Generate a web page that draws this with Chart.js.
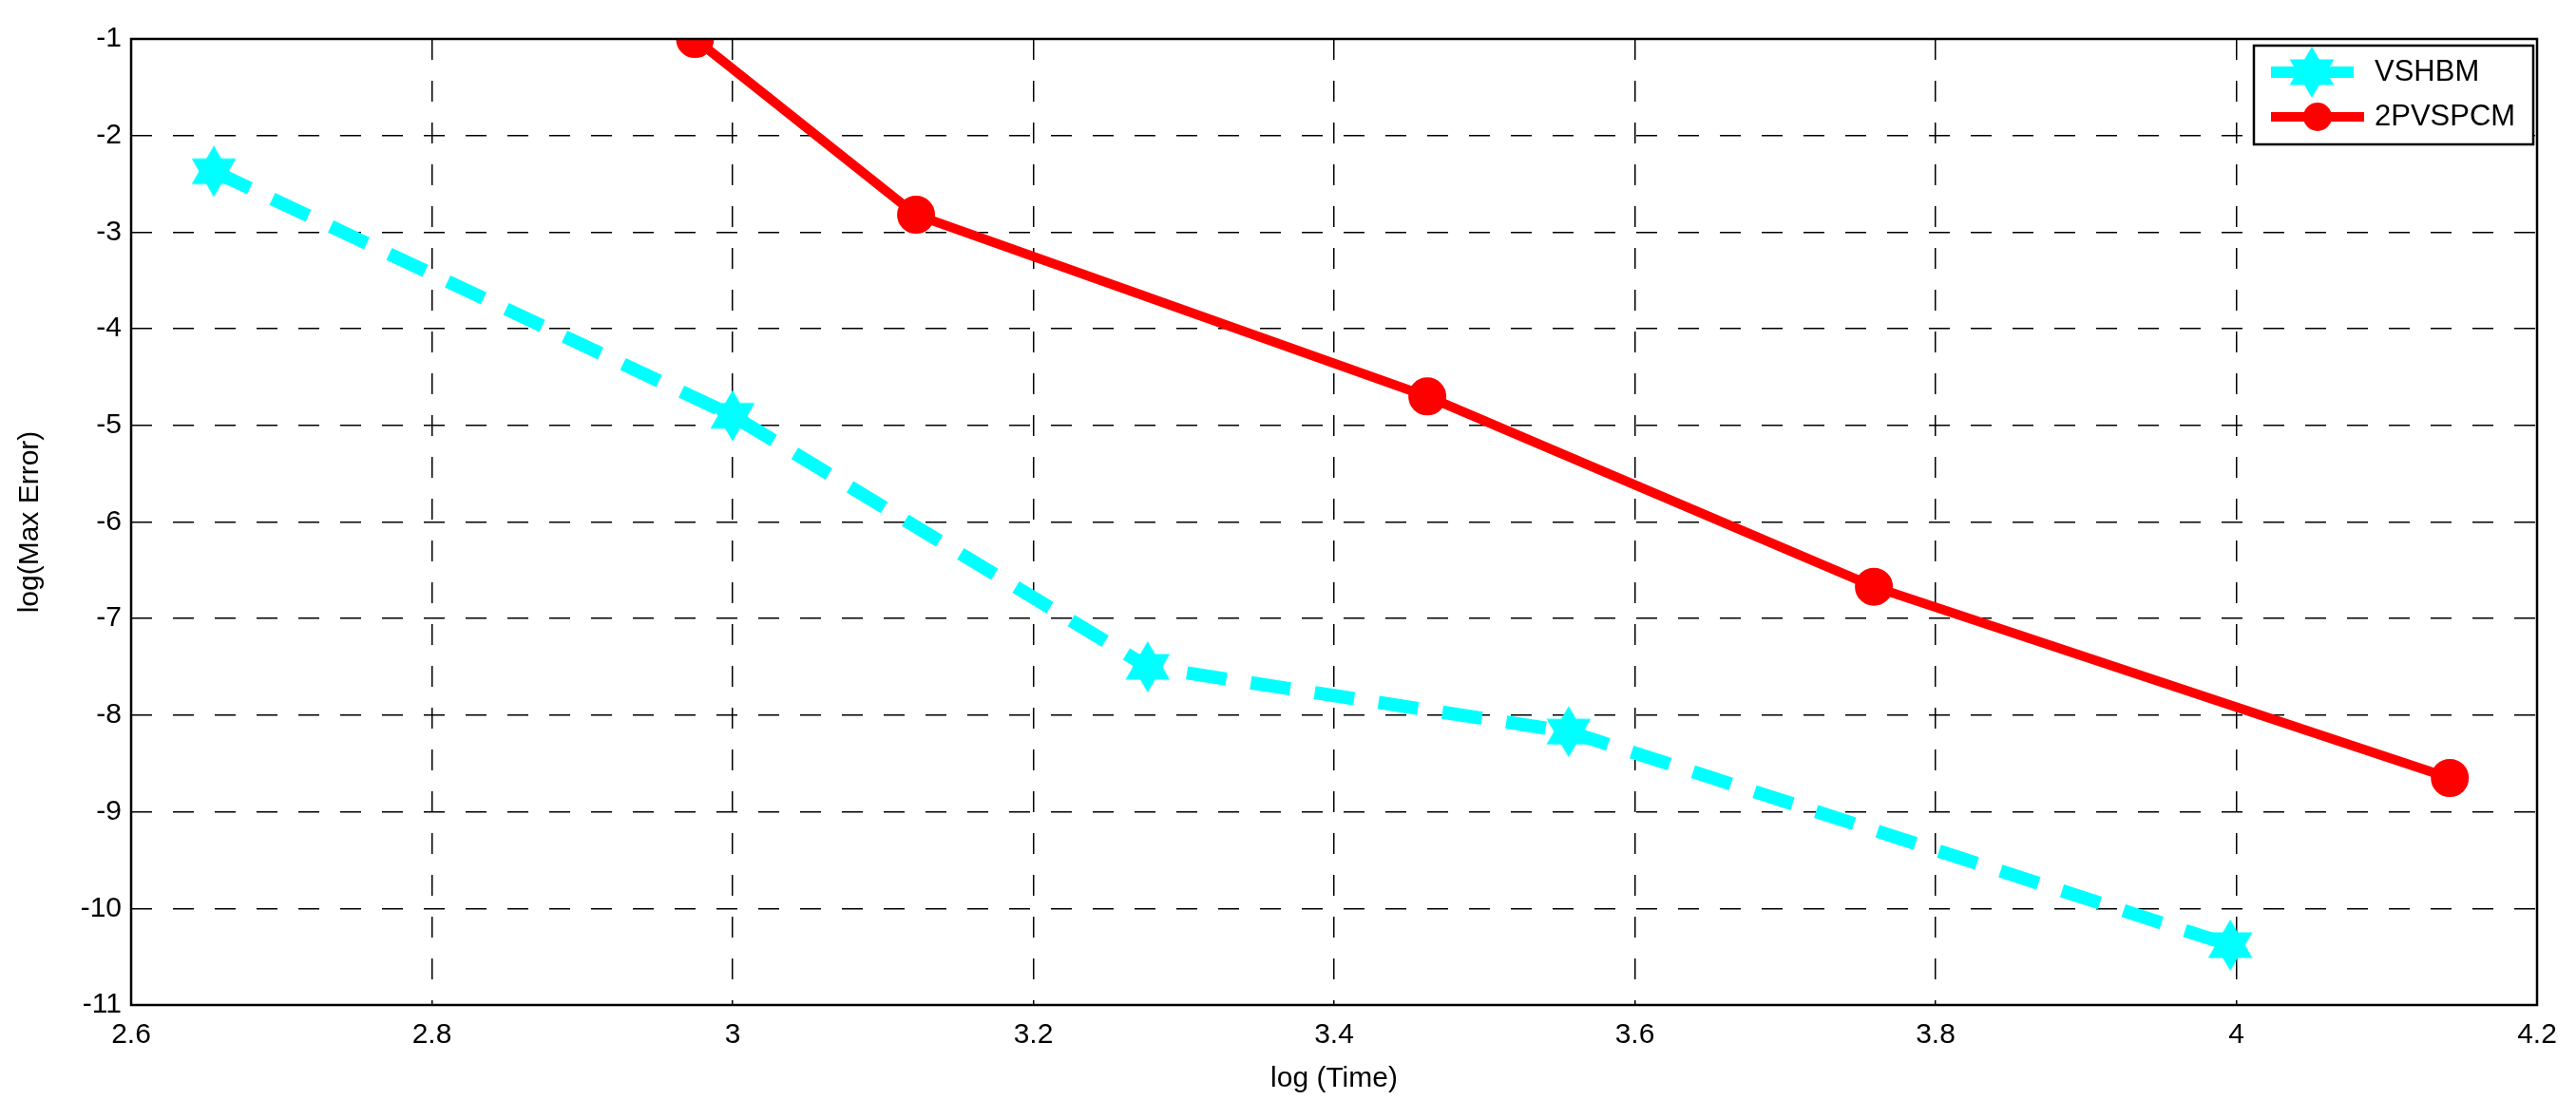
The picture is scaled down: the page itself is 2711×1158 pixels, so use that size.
<!DOCTYPE html>
<html><head><meta charset="utf-8">
<script src="https://cdn.jsdelivr.net/npm/chart.js@4.4.1/dist/chart.umd.min.js"></script>
<style>html,body{margin:0;padding:0;background:#fff}#w{width:2711px;height:1158px}</style>
</head><body><div id="w"><canvas id="c"></canvas></div>
<script>
const seriesNames = ['VSHBM', '2PVSPCM'];
const vshbmX = [2.655, 3.0, 3.276, 3.556, 3.996];
const vshbmY = [-2.37, -4.9, -7.5, -8.17, -10.38];
const pvsX = [2.975, 3.122, 3.462, 3.759, 4.142];
const pvsY = [-1.0, -2.82, -4.7, -6.67, -8.65];
const xTitle = 'log (Time)';
const yTitle = 'log(Max Error)';

function starImg(size, color){
  const c=document.createElement('canvas');c.width=size;c.height=size;
  const g=c.getContext('2d');const r=size/2, cx=r, cy=r;
  g.fillStyle=color;
  for(const off of [-Math.PI/2, Math.PI/2]){
    g.beginPath();
    for(let i=0;i<3;i++){const a=off+i*2*Math.PI/3;const px=cx+r*Math.cos(a),py=cy+r*Math.sin(a);i?g.lineTo(px,py):g.moveTo(px,py);}
    g.closePath();g.fill();
  }
  return c;
}
const star = starImg(54,'#00ffff');
const toXY=(xs,ys)=>xs.map((x,i)=>({x,y:ys[i]}));
const F='"Liberation Sans", Arial, sans-serif';

const frame={id:'frame',afterDraw(ch){
  const a=ch.chartArea,g=ch.ctx;g.save();
  g.strokeStyle='#000';g.lineWidth=2.5;g.strokeRect(a.left,a.top,a.right-a.left,a.bottom-a.top);
  const lx=2372,ly=48,lw=294,lh=104;
  g.fillStyle='#fff';g.fillRect(lx,ly,lw,lh);g.strokeRect(lx,ly,lw,lh);
  g.lineWidth=12;g.strokeStyle='#00ffff';g.beginPath();g.moveTo(lx+18,ly+28);g.lineTo(lx+105,ly+28);g.stroke();
  g.drawImage(star,lx+61-27,ly+28-27);
  g.lineWidth=10;g.strokeStyle='#ff0000';g.beginPath();g.moveTo(lx+18,ly+75);g.lineTo(lx+116,ly+75);g.stroke();
  g.fillStyle='#ff0000';g.beginPath();g.arc(lx+67,ly+75,15,0,Math.PI*2);g.fill();
  g.fillStyle='#000';g.font='31px '+F;g.textBaseline='middle';
  g.fillText(seriesNames[0],lx+127,ly+28);g.fillText(seriesNames[1],lx+127,ly+75);
  g.restore();
}};

new Chart(document.getElementById('c'),{
  type:'line',
  data:{datasets:[
    {label:seriesNames[0],data:toXY(vshbmX,vshbmY),borderColor:'#00ffff',backgroundColor:'#00ffff',borderWidth:14,borderDash:[42,26],pointStyle:star,pointRadius:27,tension:0},
    {label:seriesNames[1],data:toXY(pvsX,pvsY),borderColor:'#ff0000',backgroundColor:'#ff0000',borderWidth:10,pointStyle:'circle',pointRadius:15,tension:0}
  ]},
  plugins:[frame],
  options:{responsive:true,maintainAspectRatio:false,animation:false,
    layout:{padding:{left:10,right:34,top:29,bottom:0}},
    plugins:{legend:{display:false},tooltip:{enabled:false}},
    scales:{
      x:{type:'linear',min:2.6,max:4.2,
        ticks:{stepSize:0.2,color:'#000',font:{family:F,size:30},padding:14,maxRotation:0,callback:v=>String(+v.toFixed(1))},
        grid:{color:'#000',lineWidth:1.5,drawTicks:false},border:{display:false,dash:[22,22]},
        title:{display:true,text:xTitle,color:'#000',font:{family:F,size:30},padding:{top:4}},
        afterFit(s){s.height=100;}},
      y:{min:-11,max:-1,
        ticks:{stepSize:1,color:'#000',font:{family:F,size:30},padding:10},
        grid:{color:'#000',lineWidth:1.5,drawTicks:false},border:{display:false,dash:[22,22]},
        title:{display:true,text:yTitle,color:'#000',font:{family:F,size:30},padding:{bottom:8}},
        afterFit(s){s.width=128;}}
    }}
});
</script></body></html>
